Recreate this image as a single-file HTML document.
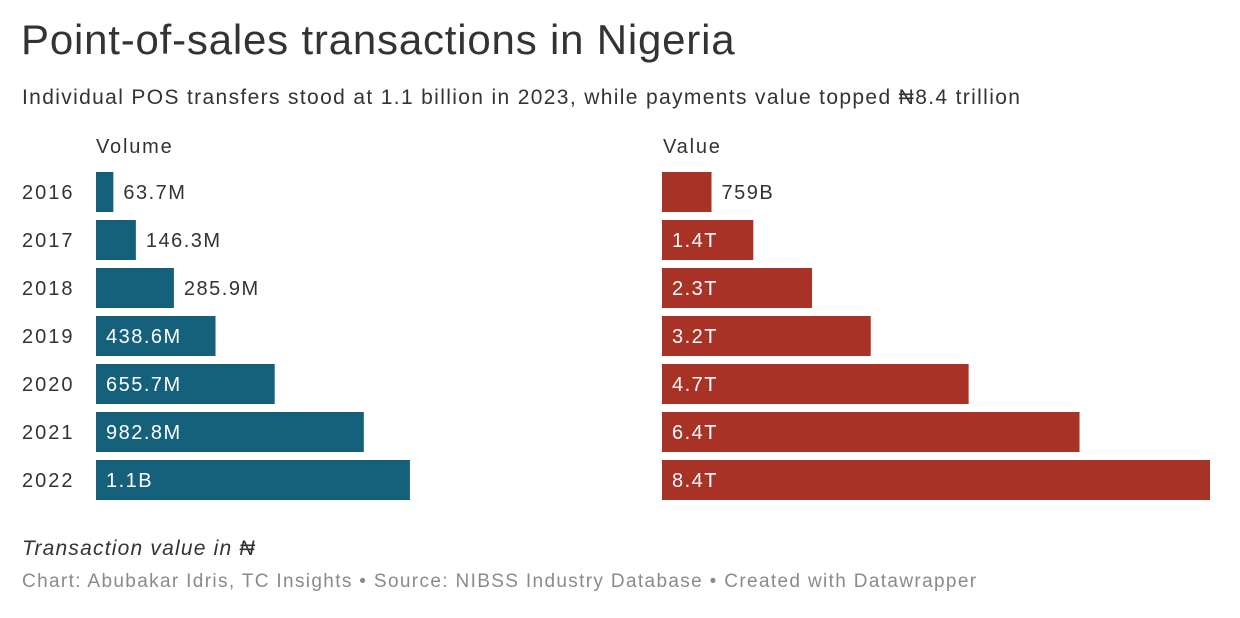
<!DOCTYPE html>
<html><head><meta charset="utf-8">
<style>
body{margin:0;width:1240px;height:618px;background:#fff;font-family:"Liberation Sans",Arial,sans-serif;color:#333;position:relative;overflow:hidden}
.t{position:absolute;white-space:nowrap}
</style></head>
<body>
<div class="t" style="left:21px;top:16px;font-size:42px;letter-spacing:0.8px;color:#333">Point-of-sales transactions in Nigeria</div>
<div class="t" style="left:22px;top:86px;font-size:21px;letter-spacing:1.35px;color:#333">Individual POS transfers stood at 1.1 billion in 2023, while payments value topped ₦8.4 trillion</div>
<div class="t" style="left:96px;top:136px;font-size:20px;letter-spacing:1.8px">Volume</div>
<div class="t" style="left:663px;top:136px;font-size:20px;letter-spacing:1.8px">Value</div>
<svg id="chart" width="1240" height="618" style="position:absolute;left:0;top:0"></svg>
<div class="t" style="left:22px;top:537px;font-size:21px;letter-spacing:1.2px;font-style:italic">Transaction value in ₦</div>
<div class="t" style="left:22px;top:571px;font-size:19px;letter-spacing:1.35px;color:#8a8a8a">Chart: Abubakar Idris, TC Insights • Source: NIBSS Industry Database • Created with Datawrapper</div>
<script>
const years=["2016","2017","2018","2019","2020","2021","2022"];
const volumes=[63.7,146.3,285.9,438.6,655.7,982.8,1152];
const volumeLabels=["63.7M","146.3M","285.9M","438.6M","655.7M","982.8M","1.1B"];
const values=[759,1400,2300,3200,4700,6400,8400];
const valueLabels=["759B","1.4T","2.3T","3.2T","4.7T","6.4T","8.4T"];
const svg=document.getElementById('chart');
const NS='http://www.w3.org/2000/svg';
const xVol=v=>v*0.2725;
const xVal=v=>v*(548/8400);
const y=i=>172+i*48;
function mk(tag,attrs){const e=document.createElementNS(NS,tag);for(const k in attrs)e.setAttribute(k,attrs[k]);svg.appendChild(e);return e;}
function bar(x0,w,i,color,label,name){
  const r=mk('rect',{x:x0,y:y(i),width:w,height:40,fill:color});
  
  
  const inside=w>label.length*13+10;
  const t=mk('text',{x:inside?x0+10:x0+w+10,y:y(i)+27,'font-size':20,'letter-spacing':'1.5px',fill:inside?'#fff':'#333','font-family':'Liberation Sans, Arial, sans-serif'});
  t.textContent=label;
  
  
}
years.forEach((yr,i)=>{
  const t=mk('text',{x:22,y:y(i)+27,'font-size':20,'letter-spacing':'2px',fill:'#333','font-family':'Liberation Sans, Arial, sans-serif'});
  t.textContent=yr;
  
  
  bar(96,xVol(volumes[i]),i,'#15607a',volumeLabels[i],'volume');
  bar(662,xVal(values[i]),i,'#a93226',valueLabels[i],'value');
});
</script>
</body></html>
